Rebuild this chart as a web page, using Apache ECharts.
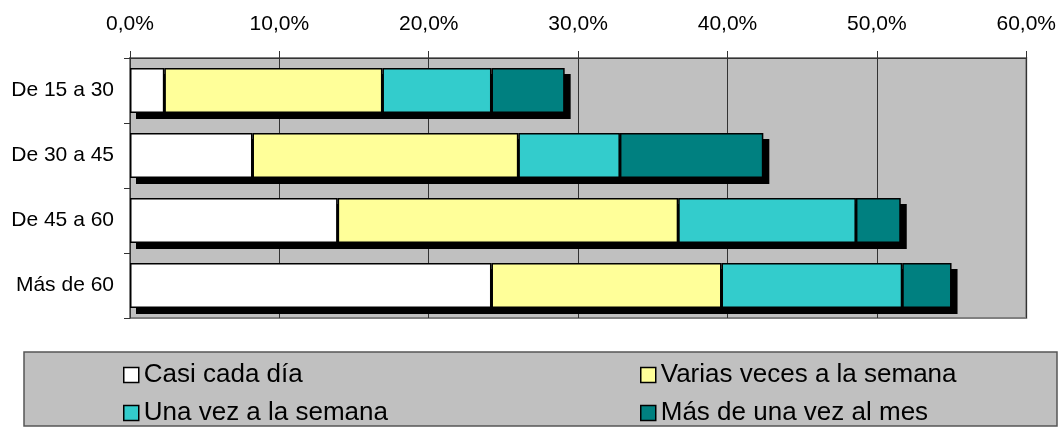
<!DOCTYPE html>
<html>
<head>
<meta charset="utf-8">
<script src="https://cdn.jsdelivr.net/npm/echarts@6/dist/echarts.min.js"></script>
<style>
	html, body { margin: 0; padding: 0; background: #fff; }
	#chart { width: 1059px; height: 427px; }
</style>
</head>
<body>
<div id="chart"></div>
<script>
const FONT = '"Liberation Sans", Arial, sans-serif';

const categories = ['De 15 a 30', 'De 30 a 45', 'De 45 a 60', 'Más de 60'];
const seriesNames = ['Casi cada día', 'Varias veces a la semana', 'Una vez a la semana', 'Más de una vez al mes'];
const seriesColors = ['#FFFFFF', '#FFFF99', '#33CCCC', '#008080'];

// percentages per category, top to bottom
const casiCadaDia = [2.3, 8.2, 13.9, 24.2];
const variasVeces = [14.6, 17.8, 22.8, 15.4];
const unaVez = [7.3, 6.8, 11.9, 12.1];
const masDeUnaVez = [4.9, 9.6, 3.0, 3.3];

const tickMin = 0, tickMax = 60, tickStep = 10;

const values = [casiCadaDia, variasVeces, unaVez, masDeUnaVez];
const BAR_W = 45, SHADOW = 6;

// total per category, for the drop shadow behind each stacked bar
let totals = categories.map((c, j) => [values.reduce((s, arr) => s + arr[j], 0), j]);

let chart = echarts.init(document.getElementById('chart'));

function barSeries(i) {
	return {
		type: 'bar', name: seriesNames[i], stack: 'total',
		barWidth: BAR_W,
		itemStyle: { color: seriesColors[i], borderColor: '#000', borderWidth: 1.5 },
		emphasis: { disabled: true },
		data: values[i]
	};
}

function shadowItem(params, api) {
	let start = api.coord([0, api.value(1)]),
		end = api.coord([api.value(0), api.value(1)]);
	return {
		type: 'rect',
		shape: { x: start[0] + SHADOW, y: end[1] - BAR_W / 2 + SHADOW, width: end[0] - start[0], height: BAR_W },
		style: { fill: '#000' }
	};
}

const legendCommon = {
	orient: 'vertical', icon: 'rect', itemWidth: 15, itemHeight: 15, itemGap: 12,
	height: 120, selectedMode: false,
	textStyle: { fontFamily: FONT, fontSize: 26, color: '#000' },
	itemStyle: { borderColor: '#000', borderWidth: 1.5 }
};

chart.setOption({
	animation: false,
	textStyle: { fontFamily: FONT },
	graphic: [{
		type: 'rect', z: -10, silent: true,
		shape: { x: 24, y: 352, width: 1033, height: 74 },
		style: { fill: '#C0C0C0', stroke: '#555', lineWidth: 1.5 }
	}],
	legend: [
		Object.assign({ left: 118, top: 357, data: [seriesNames[0], seriesNames[2]] }, legendCommon),
		Object.assign({ left: 635, top: 357, data: [seriesNames[1], seriesNames[3]] }, legendCommon)
	],
	grid: {
		left: 130, right: 31, top: 58, bottom: 109,
		show: true, backgroundColor: '#C0C0C0', borderColor: '#808080', borderWidth: 2
	},
	xAxis: {
		type: 'value', position: 'top', min: tickMin, max: tickMax, interval: tickStep,
		axisLine: { show: true, lineStyle: { color: '#333', width: 1 } },
		axisTick: { show: true, length: 7, lineStyle: { color: '#333' } },
		axisLabel: {
			fontFamily: FONT, fontSize: 21, color: '#000', margin: 23,
			formatter: v => v.toFixed(1).replace('.', ',') + '%'
		},
		splitLine: { show: true, lineStyle: { color: '#333', width: 1 } }
	},
	yAxis: {
		type: 'category', inverse: true, data: categories,
		axisLine: { show: true, lineStyle: { color: '#333', width: 1 } },
		axisTick: { show: true, length: 6, lineStyle: { color: '#333' } },
		axisLabel: { fontFamily: FONT, fontSize: 21, color: '#000', margin: 16 },
		splitLine: { show: false }
	},
	series: [{
		type: 'custom', name: 'shadow', silent: true,
		renderItem: shadowItem,
		encode: { x: 0, y: 1 },
		data: totals
	}].concat(values.map((v, i) => barSeries(i)))
});
</script>
</body>
</html>
